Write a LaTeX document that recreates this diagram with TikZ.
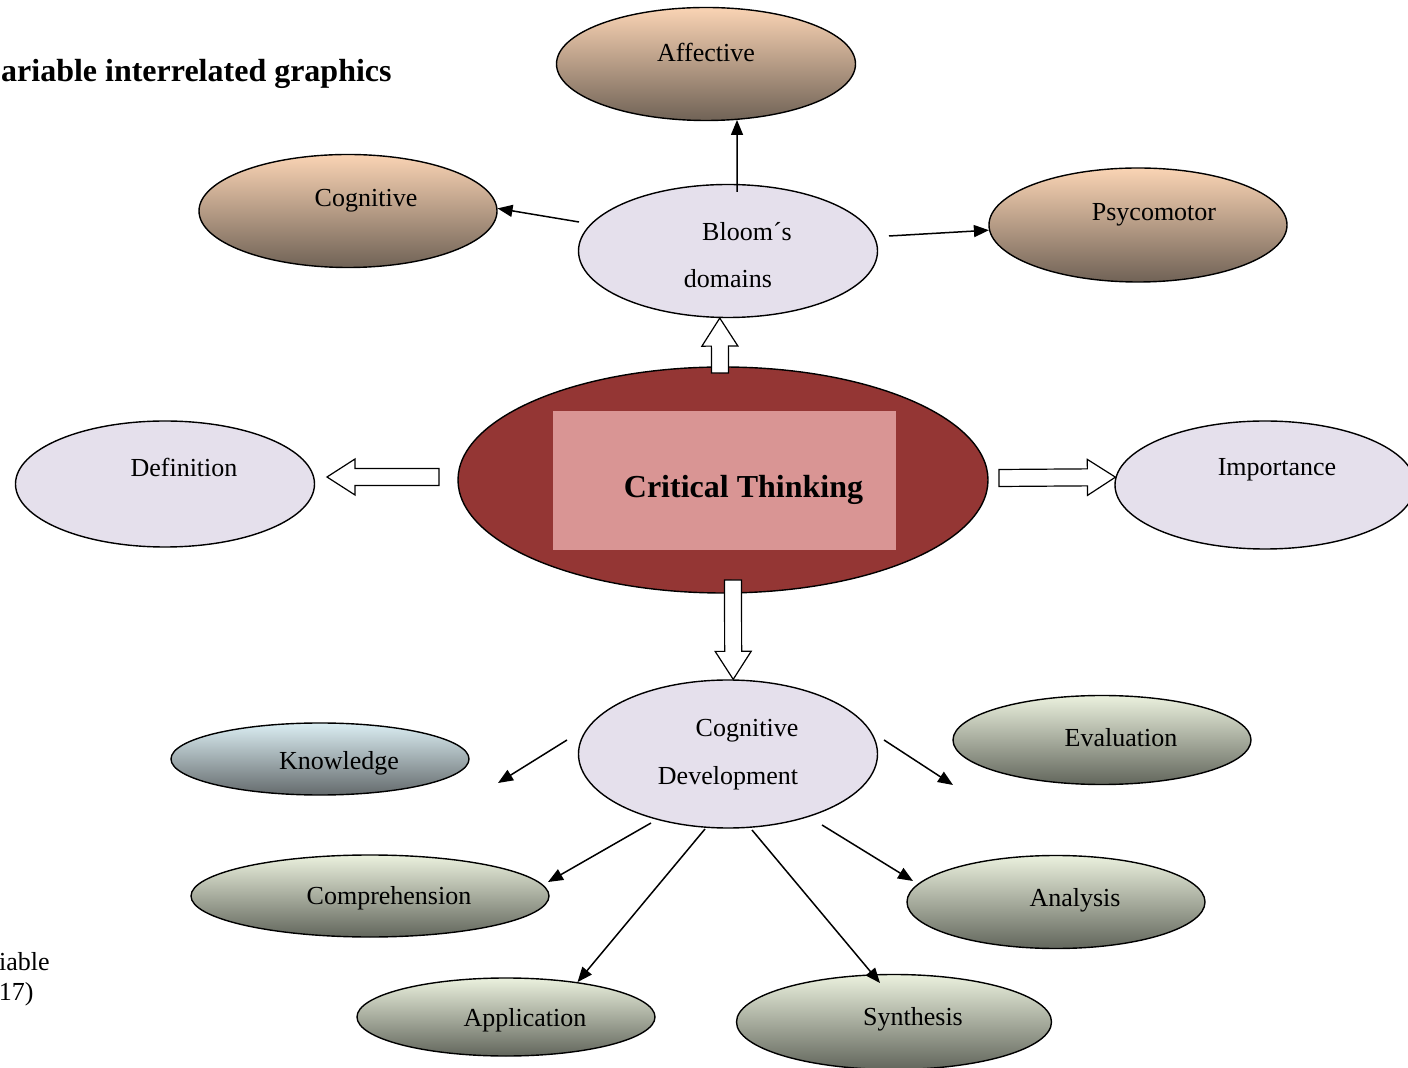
\documentclass[tikz,border=0pt]{standalone}
\usepackage{fontspec}
\setmainfont{Liberation Serif}
\usepackage{tikz}
\usetikzlibrary{
shapes,
arrows.meta,
calc
}
\definecolor{peach}{RGB}{250,212,180}
\definecolor{umber}{RGB}{112,98,86}
\definecolor{lavend}{RGB}{229,224,236}
\definecolor{iceblue}{RGB}{219,238,243}
\definecolor{slate}{RGB}{100,106,108}
\definecolor{sage}{RGB}{235,241,222}
\definecolor{moss}{RGB}{98,102,92}
\definecolor{ctred}{RGB}{148,54,52}
\definecolor{ctpink}{RGB}{217,149,148}
\begin{document}
\begin{tikzpicture}[x=0.5pt,y=-0.5pt,
    oval/.style={ellipse, draw=black, line width=0.7pt, inner sep=0pt},
    brownoval/.style={oval, top color=peach, bottom color=umber},
    blueoval/.style={oval, top color=iceblue, bottom color=slate},
    greenoval/.style={oval, top color=sage, bottom color=moss},
    lilacoval/.style={oval, fill=lavend},
    txt/.style={font=\fontsize{13}{15}\selectfont, inner sep=0pt, text depth=0pt},
    arr/.style={line width=0.75pt, -{Triangle[length=7.5pt,width=6pt]}},
    fatarrow/.style={draw=black, fill=white, line width=0.6pt,
      to path={let \p1=($(\tikztotarget)!14pt!(\tikztostart)$) in
        ($(\tikztostart)!4.25pt!90:(\tikztotarget)$) -- ($(\p1)!4.25pt!90:(\tikztotarget)$)
        -- ($(\p1)!9pt!90:(\tikztotarget)$) -- (\tikztotarget)
        -- ($(\p1)!9pt!-90:(\tikztotarget)$) -- ($(\p1)!4.25pt!-90:(\tikztotarget)$)
        -- ($(\tikztostart)!4.25pt!-90:(\tikztotarget)$) -- cycle}}]
    \useasboundingbox (0,0) rectangle (1408,1068);
    \node[anchor=base east, font=\bfseries\fontsize{16}{19}\selectfont, inner sep=0pt] (title) at (392,82) {ariable interrelated graphics};
    \node[txt, anchor=base east] (note1) at (50,970) {iable};
    \node[txt, anchor=base east] (note2) at (34,1000) {17)};
    \node[brownoval, minimum width=149.5pt, minimum height=56.5pt, label={[txt,shift={(0,-12)}]center:Affective}] (aff) at (706,64) {};
    \node[brownoval, minimum width=149pt, minimum height=56.5pt, label={[txt,shift={(18,-13)}]center:Cognitive}] (cog) at (348,211) {};
    \node[brownoval, minimum width=149pt, minimum height=57pt, label={[txt,shift={(16,-13)}]center:Psycomotor}] (psy) at (1138,225) {};
    \node[lilacoval, minimum width=149.5pt, minimum height=66.5pt,
      label={[txt,shift={(19,-20)}]center:Bloom´s}, label={[txt,shift={(0,27)}]center:domains}] (bloom) at (728,251) {};
    \node[ellipse, draw=black, line width=0.7pt, fill=ctred, minimum width=265pt, minimum height=113pt] (ct) at (723,480) {};
    \node[fill=ctpink, minimum width=171.5pt, minimum height=69.5pt, inner sep=0pt,
      label={[font=\bfseries\fontsize{16}{19}\selectfont, inner sep=0pt, text depth=0pt, shift={(19,6)}]center:Critical Thinking}] (ctbox) at (724.5,480.5) {};
    \node[lilacoval, minimum width=149.5pt, minimum height=63pt, label={[txt,shift={(19,-17)}]center:Definition}] (def) at (165,484) {};
    \node[lilacoval, minimum width=150pt, minimum height=64pt, label={[txt,shift={(12,-18)}]center:Importance}] (imp) at (1265,485) {};
    \node[lilacoval, minimum width=149.5pt, minimum height=74pt,
      label={[txt,shift={(19,-26)}]center:Cognitive}, label={[txt,shift={(0,21)}]center:Development}] (cogdev) at (728,754) {};
    \node[blueoval, minimum width=149pt, minimum height=36pt, label={[txt,shift={(19,1)}]center:Knowledge}] (know) at (320,759) {};
    \node[greenoval, minimum width=149pt, minimum height=44.5pt, label={[txt,shift={(19,-3)}]center:Evaluation}] (eval) at (1102,740) {};
    \node[greenoval, minimum width=179pt, minimum height=41pt, label={[txt,shift={(19,-1)}]center:Comprehension}] (comp) at (370,896) {};
    \node[greenoval, minimum width=149pt, minimum height=46.5pt, label={[txt,shift={(19,-5)}]center:Analysis}] (ana) at (1056,902) {};
    \node[greenoval, minimum width=149pt, minimum height=39pt, label={[txt,shift={(19,0)}]center:Application}] (app) at (506,1017) {};
    \node[greenoval, minimum width=157.5pt, minimum height=47.5pt, label={[txt,shift={(19,-6)}]center:Synthesis}] (syn) at (894,1022) {};
    \coordinate (b1) at (737,192);
    \coordinate (b2) at (579,222);
    \coordinate (b3) at (889,236);
    \coordinate (c1) at (567,740);
    \coordinate (k1) at (498,783);
    \coordinate (c2) at (884,740);
    \coordinate (e1) at (953,785);
    \coordinate (c3) at (651,823);
    \coordinate (m1) at (548,882);
    \coordinate (c4) at (822,825);
    \coordinate (n1) at (913,881);
    \coordinate (c5) at (705,829);
    \coordinate (c6) at (752,830);
    \coordinate (s1) at (880,983);
    \coordinate (t1) at (720,373);
    \coordinate (t2) at (439,477);
    \coordinate (d1) at (327,477);
    \coordinate (t3) at (999,478);
    \coordinate (t4) at (733,580);
    \draw[arr] (b1) -- (aff.-61);
    \draw[arr] (b2) -- (cog.1);
    \draw[arr] (b3) -- (psy.182);
    \draw[arr] (c1) -- (k1);
    \draw[arr] (c2) -- (e1);
    \draw[arr] (c3) -- (m1);
    \draw[arr] (c4) -- (n1);
    \draw[arr] (c5) -- (app.26);
    \draw[arr] (c6) -- (s1);
    \path[fatarrow] (t1) to (bloom.263);
    \path[fatarrow] (t2) to (d1);
    \path[fatarrow] (t3) to (imp.177);
    \path[fatarrow] (t4) to (cogdev.86);
\end{tikzpicture}
\end{document}
